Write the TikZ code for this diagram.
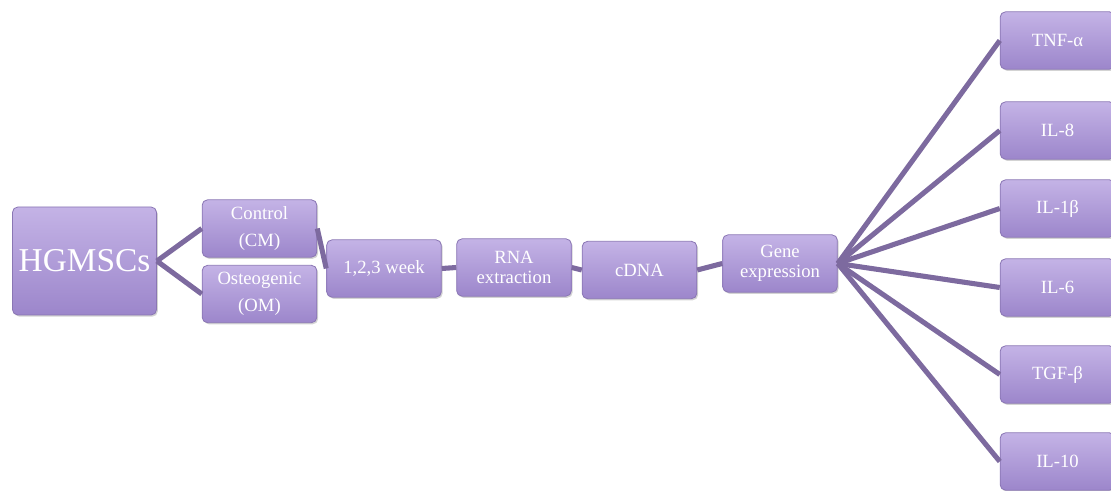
\documentclass[tikz,border=0pt]{standalone}
\usepackage{fontspec}
\setmainfont{Liberation Serif}
\usetikzlibrary{shadows}

\definecolor{boxtop}{HTML}{C4B3E6}
\definecolor{boxbot}{HTML}{9C86CB}
\definecolor{boxline}{HTML}{8A76B4}
\definecolor{linkcol}{HTML}{7D6A9F}

\begin{document}
\begin{tikzpicture}[x=0.75pt,y=-0.75pt]

\tikzset{box/.style = {shape=rectangle, rounded corners=4pt, draw=boxline, line width=0.6pt,
  top color=boxtop, bottom color=boxbot, text=white, align=center,
  minimum width=86pt, minimum height=43pt, inner sep=1pt, font=\fontsize{14}{15}\selectfont,
  drop shadow={shadow xshift=1pt, shadow yshift=-1.2pt, opacity=0.35}}}
\tikzset{link/.style = {draw=linkcol, line width=3.8pt}}
\useasboundingbox (0,0) rectangle (1111,491);
%source
\node[box, minimum width=108pt, minimum height=81pt, font=\fontsize{25}{27}\selectfont] (hg) at (84.5,261) {HGMSCs};
\node[box, font=\fontsize{14}{20}\selectfont] (cm) at (259.5,228.5) {Control\\(CM)};
\node[box, font=\fontsize{14}{20}\selectfont] (om) at (259.5,294) {Osteogenic\\(OM)};
%steps
\node[box] (wk) at (384,268.5) {1,2,3 week};
\node[box] (rna) at (514,267.5) {RNA\\extraction};
\node[box] (cdna) at (639.5,270) {cDNA};
\node[box] (gene) at (780,263.5) {Gene\\expression};
%genes
\node[box] (tnf) at (1057.5,40.5) {TNF-α};
\node[box] (il8) at (1057.5,130.5) {IL-8};
\node[box] (il1) at (1057.5,208.5) {IL-1β};
\node[box] (il6) at (1057.5,287.5) {IL-6};
\node[box] (tgf) at (1057.5,374.5) {TGF-β};
\node[box] (il10) at (1057.5,461.5) {IL-10};
%links
\draw[link] (hg.east) -- (cm.west);
\draw[link] (hg.east) -- (om.west);
\draw[link] (cm.east) -- (wk.west);
\draw[link] (wk.east) -- (rna.west);
\draw[link] (rna.east) -- (cdna.west);
\draw[link] (cdna.east) -- (gene.west);
\foreach \g in {tnf,il8,il1,il6,tgf,il10}
  \draw[link] (gene.east) -- (\g.west);

\end{tikzpicture}
\end{document}
